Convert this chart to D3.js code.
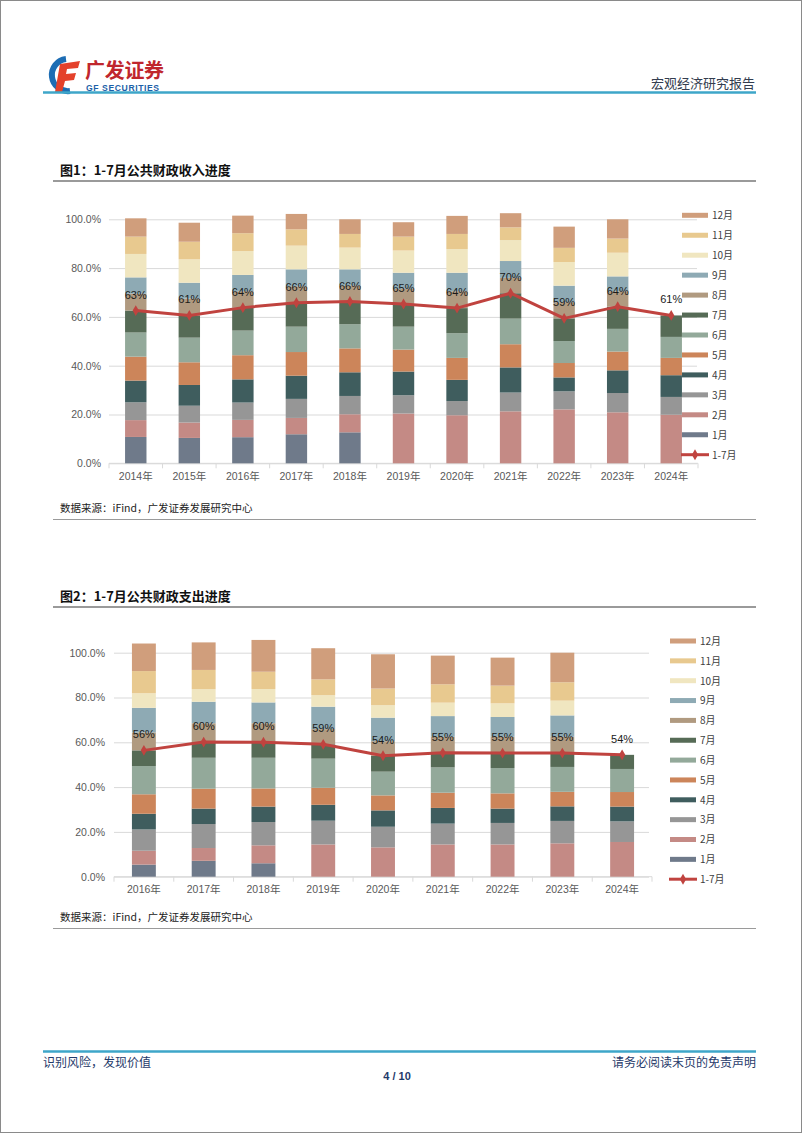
<!DOCTYPE html>
<html><head><meta charset="utf-8">
<script src="https://cdn.jsdelivr.net/npm/d3@7"></script>
<style>
body{margin:0;background:#fff;}
svg{display:block;font-family:"Liberation Sans","Noto Sans CJK SC",sans-serif;}
.cjk{font-family:"Noto Sans CJK SC","Liberation Sans",sans-serif;}
</style></head>
<body>
<script>
// ---------- DATA ----------
const months = ["1月","2月","3月","4月","5月","6月","7月","8月","9月","10月","11月","12月"];
const monthColors = ["#6f7a8a","#c48a85","#969696","#3f5d5e","#cc855a","#93a99a","#566b56","#b09a80","#8eaab4","#f0e6c0","#e8c98f","#d09e7c"];
const lineName = "1-7月";

// 图1 公共财政收入 (% of full-year), years 2014-2024
const revYears = ["2014年","2015年","2016年","2017年","2018年","2019年","2020年","2021年","2022年","2023年","2024年"];
const rev01 = [10.8,10.4,10.7,11.9,12.7,0,0,0,0,0,0];
const rev02 = [6.9,6.3,7.1,6.7,7.4,20.4,19.7,21.3,22.1,20.9,19.9];
const rev03 = [7.3,6.9,7.1,7.8,7.5,7.5,5.8,7.7,7.4,7.9,7.3];
const rev04 = [8.9,8.5,9.5,9.5,9.7,9.7,8.7,10.3,5.7,9.3,8.9];
const rev05 = [9.8,9.3,9.9,9.7,9.8,9.0,9.0,9.5,5.9,7.7,7.1];
const rev06 = [9.9,10.1,10.1,10.4,9.9,9.4,10.1,10.5,9.0,9.3,8.6];
const rev07 = [9.0,9.1,9.4,9.8,9.3,9.3,10.3,10.4,9.3,9.1,8.8];
const rev08 = [6.9,6.9,6.7,6.7,6.5,6.2,6.9,6.3,6.6,6.3,null];
const rev09 = [6.7,6.5,6.7,7.0,6.7,6.6,7.6,6.9,6.8,6.1,null];
const rev10 = [9.6,9.6,9.8,9.7,8.9,9.1,9.7,8.6,9.7,9.7,null];
const rev11 = [7.1,7.2,7.3,6.7,5.6,5.7,6.2,5.2,5.8,5.8,null];
const rev12 = [7.5,7.8,7.2,6.3,6.0,5.9,7.4,5.8,8.7,7.9,null];
const revJanJul = [62.6,60.6,63.8,65.8,66.3,65.3,63.6,69.7,59.4,64.2,60.6];

// 图2 公共财政支出, years 2016-2024
const expYears = ["2016年","2017年","2018年","2019年","2020年","2021年","2022年","2023年","2024年"];
const exp01 = [5.4,7.1,6.0,0,0,0,0,0,0];
const exp02 = [6.2,5.7,8.0,14.4,13.1,14.4,14.4,14.9,15.5];
const exp03 = [9.5,10.7,10.4,10.6,9.2,9.3,9.6,10.0,9.2];
const exp04 = [7.0,6.9,6.9,7.1,7.3,7.0,6.4,6.5,6.6];
const exp05 = [8.7,8.9,8.1,7.6,6.7,6.8,6.8,6.5,6.5];
const exp06 = [12.6,13.8,13.7,13.0,10.6,11.3,11.3,11.1,10.3];
const exp07 = [7.0,7.0,6.9,6.4,7.1,6.5,6.7,6.2,6.3];
const exp08 = [8.0,8.4,8.5,6.8,6.5,7.2,7.3,7.3,null];
const exp09 = [11.0,9.6,9.3,10.0,10.5,9.2,8.8,9.5,null];
const exp10 = [6.5,5.6,6.0,5.2,5.6,6.0,6.1,6.6,null];
const exp11 = [9.9,8.6,7.7,7.0,7.4,8.2,7.9,8.2,null];
const exp12 = [12.3,12.3,14.2,13.9,15.3,12.8,12.5,13.2,null];
const expJanJul = [56.4,60.1,60.0,59.1,54.0,55.3,55.2,55.2,54.4];

const yTicks = [0,20,40,60,80,100];

// ---------- PAGE ----------
const W = 802, H = 1133;
const svg = d3.select("body").append("svg").attr("width", W).attr("height", H);
svg.append("rect").attr("x",0.5).attr("y",0.5).attr("width",W-1).attr("height",H-1)
  .attr("fill","#fff").attr("stroke","#8a8a8a").attr("stroke-width",1);

// header logo
const logo = svg.append("g");
logo.append("path").attr("d","M66,59 A16,16 0 1 0 70,91").attr("fill","none")
  .attr("stroke","#1d6db4").attr("stroke-width",6);
logo.append("path").attr("d","M60,64 L80,61 L78,68 L67,69 L66,74 L76,73 L74,80 L65,81 L62,92 L55,92 Z")
  .attr("fill","#e4412b");
logo.append("text").attr("class","cjk").attr("x",85).attr("y",78).attr("font-size",20)
  .attr("font-weight","bold").attr("fill","#c0262d").attr("letter-spacing",-0.3).text("广发证券");
logo.append("text").attr("x",86).attr("y",90.5).attr("font-size",8.6).attr("font-weight","bold")
  .attr("letter-spacing",0.6).attr("fill","#1d5fa8").text("GF SECURITIES");
svg.append("text").attr("class","cjk").attr("x",755).attr("y",88).attr("text-anchor","end")
  .attr("font-size",13).attr("fill","#333d4f").text("宏观经济研究报告");
svg.append("line").attr("x1",43).attr("x2",756).attr("y1",92.5).attr("y2",92.5)
  .attr("stroke","#3ea6c9").attr("stroke-width",2.5);

// footer
svg.append("line").attr("x1",43).attr("x2",756).attr("y1",1051.5).attr("y2",1051.5)
  .attr("stroke","#3ea6c9").attr("stroke-width",2.5);
svg.append("text").attr("class","cjk").attr("x",43).attr("y",1067).attr("font-size",12)
  .attr("fill","#1f3a6a").text("识别风险，发现价值");
svg.append("text").attr("class","cjk").attr("x",756).attr("y",1067).attr("font-size",12)
  .attr("text-anchor","end").attr("fill","#1f3a6a").text("请务必阅读末页的免责声明");
svg.append("text").attr("x",397).attr("y",1080).attr("font-size",11).attr("font-weight","bold")
  .attr("text-anchor","middle").attr("fill","#1f3a6a").text("4 / 10");

function frame(title, titleY, lineY, srcY, srcLineY){
  svg.append("text").attr("class","cjk").attr("x",60).attr("y",titleY).attr("font-size",13)
    .attr("font-weight","bold").attr("fill","#111").text(title);
  svg.append("line").attr("x1",53).attr("x2",756).attr("y1",lineY).attr("y2",lineY)
    .attr("stroke","#9a9a9a").attr("stroke-width",2);
  svg.append("text").attr("class","cjk").attr("x",60).attr("y",srcY).attr("font-size",10.5)
    .attr("fill","#222").text("数据来源：iFind，广发证券发展研究中心");
  svg.append("line").attr("x1",53).attr("x2",756).attr("y1",srcLineY).attr("y2",srcLineY)
    .attr("stroke","#9a9a9a").attr("stroke-width",1);
}

function drawChart(cfg){
  const g = svg.append("g");
  const rows = cfg.years.map((yr,i)=>{
    const r = {year: yr};
    months.forEach((m,k)=>{ r[m] = cfg.series[k][i] == null ? 0 : cfg.series[k][i]; });
    return r;
  });
  const stacked = d3.stack().keys(months)(rows);
  const xs = d3.scaleBand().domain(cfg.years).range([cfg.x0, cfg.x1]).paddingInner(cfg.pad).paddingOuter(cfg.pad/2);
  const ys = d3.scaleLinear().domain([0,100]).range([cfg.yZero, cfg.yHundred]);

  // y axis + grid
  const ya = g.append("g").attr("transform",`translate(${cfg.x0},0)`)
    .call(d3.axisLeft(ys).tickValues(yTicks).tickFormat(d=>d.toFixed(1)+"%")
      .tickSize(-(cfg.gridEnd-cfg.x0)).tickPadding(cfg.yPad));
  ya.select(".domain").remove();
  ya.selectAll(".tick line").attr("stroke","#d9d9d9").attr("stroke-width",1);
  ya.selectAll(".tick text").attr("fill","#595959").attr("font-size",10.5)
    .attr("font-family","Liberation Sans, Arial, sans-serif");

  // x axis
  const xa = g.append("g").attr("transform",`translate(0,${cfg.yZero})`)
    .call(d3.axisBottom(xs).tickSize(0).tickPadding(cfg.xPad));
  xa.select(".domain").attr("stroke","#d9d9d9").attr("d",`M${cfg.x0},0H${cfg.x1}`);
  xa.selectAll(".tick text").attr("fill","#595959").attr("font-size",10.5)
    .attr("font-family","Liberation Sans, Noto Sans CJK SC, sans-serif");
  const step = xs.step();
  const bounds = d3.range(cfg.years.length+1).map(i=>cfg.x0 + i*step);
  xa.selectAll("line.bt").data(bounds).join("line").attr("class","bt")
    .attr("x1",d=>d).attr("x2",d=>d).attr("y1",0).attr("y2",5).attr("stroke","#d9d9d9");

  // bars
  g.append("g").selectAll("g").data(stacked).join("g")
    .attr("fill",(d,i)=>monthColors[i])
    .selectAll("rect").data(d=>d.filter(p=>p[1]-p[0]>0)).join("rect")
    .attr("x",d=>xs(d.data.year)).attr("width",xs.bandwidth())
    .attr("y",d=>ys(d[1])).attr("height",d=>ys(d[0])-ys(d[1]));

  // line
  const pts = cfg.years.map((yr,i)=>({x: xs(yr)+xs.bandwidth()/2, v: cfg.line[i]}));
  g.append("path").datum(pts).attr("fill","none").attr("stroke","#c0433f").attr("stroke-width",3)
    .attr("stroke-linejoin","round")
    .attr("d", d3.line().x(d=>d.x).y(d=>ys(d.v)));
  g.append("g").selectAll("path").data(pts).join("path")
    .attr("transform",d=>`translate(${d.x},${ys(d.v)})`)
    .attr("d", d3.symbol(d3.symbolDiamond, 34)).attr("fill","#c0433f");
  g.append("g").selectAll("text").data(pts).join("text")
    .attr("x",d=>d.x).attr("y",d=>ys(d.v)-12).attr("text-anchor","middle")
    .attr("font-size",11).attr("fill","#1a1a1a").text(d=>d3.format(".0f")(d.v)+"%");

  // legend
  const leg = g.append("g");
  const items = months.map((m,i)=>({name:m, color:monthColors[i]})).reverse();
  items.forEach((it,i)=>{
    const y = cfg.legY + i*cfg.legStep;
    leg.append("rect").attr("x",cfg.legX).attr("y",y-2.5).attr("width",26).attr("height",5).attr("fill",it.color);
    leg.append("text").attr("class","cjk").attr("x",cfg.legX+30).attr("y",y+3.8).attr("font-size",10)
      .attr("fill","#404040").text(it.name);
  });
  const ly = cfg.legY + items.length*cfg.legStep;
  leg.append("line").attr("x1",cfg.legX-1).attr("x2",cfg.legX+27).attr("y1",ly).attr("y2",ly)
    .attr("stroke","#c0433f").attr("stroke-width",3);
  leg.append("path").attr("transform",`translate(${cfg.legX+13},${ly})`)
    .attr("d", d3.symbol(d3.symbolDiamond, 34)).attr("fill","#c0433f");
  leg.append("text").attr("class","cjk").attr("x",cfg.legX+30).attr("y",ly+3.8).attr("font-size",10)
    .attr("fill","#404040").text(lineName);
}

frame("图1：1-7月公共财政收入进度", 175, 181, 512, 519.5);
drawChart({
  years: revYears,
  series: [rev01,rev02,rev03,rev04,rev05,rev06,rev07,rev08,rev09,rev10,rev11,rev12],
  line: revJanJul,
  x0: 109, x1: 698, gridEnd: 697, pad: 0.6,
  yZero: 463.3, yHundred: 219.3, yPad: 8, xPad: 9,
  legX: 682, legY: 215.3, legStep: 19.95
});

frame("图2：1-7月公共财政支出进度", 601, 607, 921, 928.5);
drawChart({
  years: expYears,
  series: [exp01,exp02,exp03,exp04,exp05,exp06,exp07,exp08,exp09,exp10,exp11,exp12],
  line: expJanJul,
  x0: 114, x1: 652, gridEnd: 649, pad: 0.6,
  yZero: 876.7, yHundred: 652.7, yPad: 9, xPad: 9,
  legX: 670, legY: 641, legStep: 19.85
});
</script>
</body></html>
